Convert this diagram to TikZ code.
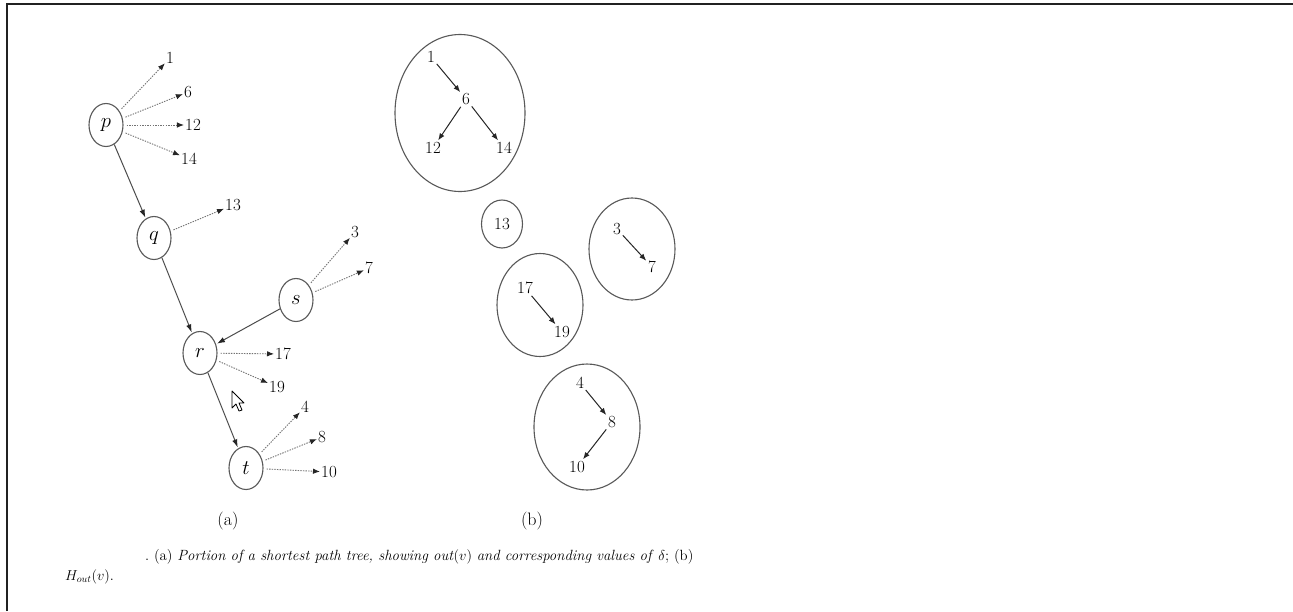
\documentclass[tikz,border=0pt]{standalone}
\usetikzlibrary{arrows.meta,shapes.geometric}
\begin{document}
\begin{tikzpicture}[x=1pt,y=-1pt,
  vert/.style={draw=black!65, line width=1.1pt, ellipse, minimum width=34pt, minimum height=43pt, inner sep=0pt, font=\fontsize{22}{22}\selectfont},
  num/.style={inner sep=1pt, font=\fontsize{17}{17}\selectfont},
  heap/.style={draw=black!65, line width=1.1pt, ellipse, inner sep=0pt},
  tree/.style={-{Latex[length=8pt,width=5.5pt,color=black!85]}, line width=1pt, draw=black!70, shorten >=1pt},
  outedge/.style={-{Latex[length=7pt,width=5.5pt,color=black!85]}, line width=0.9pt, draw=black!55, dash pattern=on 1.4pt off 1.2pt, shorten <=3pt},
  hedge/.style={-{Latex[length=7pt,width=5.5pt]}, line width=1pt, draw=black!85, shorten <=1pt, shorten >=1pt},
  sub/.style={font=\fontsize{18}{18}\selectfont, inner sep=0pt}]
\useasboundingbox (0,0) rectangle (1293,611);
\fill[white] (0,0) rectangle (1293,611);
\draw[line width=2pt, color=black!87] (7,611) -- (7,4) -- (1293,4);

% (a) shortest path tree
\node[vert] (p) at (106,125) {$p$};
\node[vert] (q) at (154,238) {$q$};
\node[vert] (r) at (200,353) {$r$};
\node[vert] (s) at (296,300) {$s$};
\node[vert] (t) at (246,468) {$t$};

\node[num] (a1) at (170,58) {1};
\node[num] (a6) at (188,92) {6};
\node[num] (a12) at (193,125) {12};
\node[num] (a14) at (189,159) {14};
\node[num] (a13) at (233,205) {13};
\node[num] (a3) at (355,232) {3};
\node[num] (a7) at (369,268) {7};
\node[num] (a17) at (283,354) {17};
\node[num] (a19) at (277,387) {19};
\node[num] (a4) at (305,407) {4};
\node[num] (a8) at (322,437) {8};
\node[num] (a10) at (329,472) {10};

\draw[tree] (p) -- (q);
\draw[tree] (q) -- (r);
\draw[tree] (s) -- (r);
\draw[tree] (r) -- (t);

\draw[outedge] (p) -- (a1);
\draw[outedge] (p) -- (a6);
\draw[outedge] (p) -- (a12);
\draw[outedge] (p) -- (a14);
\draw[outedge] (q) -- (a13);
\draw[outedge] (s) -- (a3);
\draw[outedge] (s) -- (a7);
\draw[outedge] (r) -- (a17);
\draw[outedge] (r) -- (a19);
\draw[outedge] (t) -- (a4);
\draw[outedge] (t) -- (a8);
\draw[outedge] (t) -- (a10);

% mouse pointer
\draw[fill=white, line width=0.8pt, line join=round] (232,391) -- (232,408) -- (236,404) -- (239,411) -- (242,410) -- (239,403) -- (244,403) -- cycle;

% (b) heaps
\node[heap, minimum width=130pt, minimum height=157pt] (H1) at (460,113) {};
\node[num] (b1) at (431,57) {1};
\node[num] (b6) at (466,99) {6};
\node[num] (b12) at (433,148) {12};
\node[num] (b14) at (504,148) {14};
\draw[hedge] (b1) -- (b6);
\draw[hedge] (b6) -- (b12);
\draw[hedge] (b6) -- (b14);

\node[heap, num, draw=black!65, minimum width=41pt, minimum height=48pt, inner sep=0pt] (H13) at (502,224) {13};

\node[heap, minimum width=86pt, minimum height=102pt] (H3) at (632,249) {};
\node[num] (b3) at (617,229) {3};
\node[num] (b7) at (652,267) {7};
\draw[hedge] (b3) -- (b7);

\node[heap, minimum width=86pt, minimum height=103pt] (H17) at (540,305) {};
\node[num] (b17) at (525,288) {17};
\node[num] (b19) at (562,332) {19};
\draw[hedge] (b17) -- (b19);

\node[heap, minimum width=106pt, minimum height=126pt] (H4) at (587,427) {};
\node[num] (b4) at (580,383) {4};
\node[num] (b8) at (612,422) {8};
\node[num] (b10) at (577,467) {10};
\draw[hedge] (b4) -- (b8);
\draw[hedge] (b8) -- (b10);

% sub-labels
\node[sub] (la) at (228,521) {(a)};
\node[sub] (lb) at (532,521) {(b)};

% caption
\node[anchor=base west, inner sep=0pt, font=\fontsize{14.8}{14.8}\selectfont] (cap) at (145,560)
  {.\ (a) \textit{Portion of a shortest path tree, showing out}$(v)$ \textit{and corresponding values of} $\delta$; (b)};
\node[anchor=base west, inner sep=0pt, font=\fontsize{14.8}{14.8}\selectfont] (cap2) at (65,580) {$H_{out}(v)$.};
\end{tikzpicture}
\end{document}
